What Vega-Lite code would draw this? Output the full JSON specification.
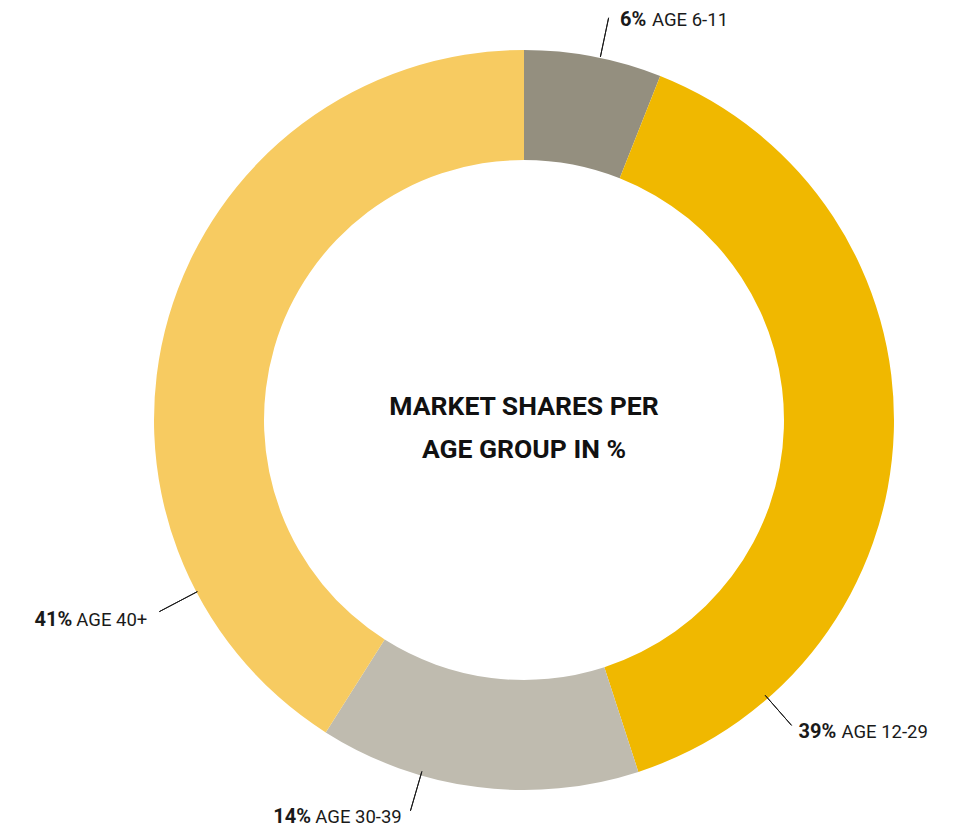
{
  "$schema": "https://vega.github.io/schema/vega-lite/v6.json",
  "width": 966,
  "height": 829,
  "autosize": {"type": "fit", "contains": "padding"},
  "padding": {"left": 75, "top": 11, "right": 0, "bottom": 0},
  "background": "white",
  "config": {"view": {"stroke": null}},
  "data": {
    "values": [
      {"group": "AGE 6-11", "age_from": 6, "share": 6},
      {"group": "AGE 12-29", "age_from": 12, "share": 39},
      {"group": "AGE 30-39", "age_from": 30, "share": 14},
      {"group": "AGE 40+", "age_from": 40, "share": 41}
    ]
  },
  "transform": [{"calculate": "datum.share + '%'", "as": "pct"}],
  "layer": [
    {
      "mark": {"type": "arc", "radius": 370, "radius2": 260},
      "encoding": {
        "theta": {"field": "share", "type": "quantitative", "stack": true, "scale": {"domain": [0, 100]}},
        "order": {"field": "age_from", "type": "quantitative", "sort": "ascending"},
        "color": {
          "field": "group",
          "type": "nominal",
          "scale": {
            "domain": ["AGE 6-11", "AGE 12-29", "AGE 30-39", "AGE 40+"],
            "range": ["#948f7f", "#f0b800", "#bfbbaf", "#f7cb61"]
          },
          "legend": null
        }
      }
    },
    {
      "transform": [{"filter": "datum.group === 'AGE 6-11'"}],
      "layer": [
        {"mark": {"type": "arc", "radius": 411, "radius2": 371, "filled": false, "color": "#1a1a1a", "strokeWidth": 1},
         "encoding": {"theta": {"datum": 3.3}, "theta2": {"datum": 3.3}}},
        {"mark": {"type": "text", "radius": 412, "align": "left", "baseline": "alphabetic", "dx": 12.5, "dy": 9.1, "font": "Roboto", "fontWeight": "bold", "fontSize": 20, "color": "#1a1a1a"},
         "encoding": {"theta": {"datum": 3.25}, "text": {"field": "pct"}}},
        {"mark": {"type": "text", "radius": 412, "align": "left", "baseline": "alphabetic", "dx": 44.5, "dy": 9.1, "font": "Roboto", "fontSize": 18.5, "color": "#1a1a1a"},
         "encoding": {"theta": {"datum": 3.25}, "text": {"field": "group"}}}
      ]
    },
    {
      "transform": [{"filter": "datum.group === 'AGE 12-29'"}],
      "layer": [
        {"mark": {"type": "arc", "radius": 406, "radius2": 366, "filled": false, "color": "#1a1a1a", "strokeWidth": 1},
         "encoding": {"theta": {"datum": 38.55}, "theta2": {"datum": 38.55}}},
        {"mark": {"type": "text", "radius": 406, "align": "left", "baseline": "alphabetic", "dx": 6.9, "dy": 12.8, "font": "Roboto", "fontWeight": "bold", "fontSize": 20, "color": "#1a1a1a"},
         "encoding": {"theta": {"datum": 38.55}, "text": {"field": "pct"}}},
        {"mark": {"type": "text", "radius": 406, "align": "left", "baseline": "alphabetic", "dx": 50, "dy": 12.8, "font": "Roboto", "fontSize": 18.5, "color": "#1a1a1a"},
         "encoding": {"theta": {"datum": 38.55}, "text": {"field": "group"}}}
      ]
    },
    {
      "transform": [{"filter": "datum.group === 'AGE 30-39'"}],
      "layer": [
        {"mark": {"type": "arc", "radius": 407, "radius2": 366, "filled": false, "color": "#1a1a1a", "strokeWidth": 1},
         "encoding": {"theta": {"datum": 54.5}, "theta2": {"datum": 54.5}}},
        {"mark": {"type": "text", "radius": 407, "align": "right", "baseline": "alphabetic", "dx": -99.5, "dy": 12.5, "font": "Roboto", "fontWeight": "bold", "fontSize": 20, "color": "#1a1a1a"},
         "encoding": {"theta": {"datum": 54.5}, "text": {"field": "pct"}}},
        {"mark": {"type": "text", "radius": 407, "align": "right", "baseline": "alphabetic", "dx": -8.7, "dy": 12.5, "font": "Roboto", "fontSize": 18.5, "color": "#1a1a1a"},
         "encoding": {"theta": {"datum": 54.5}, "text": {"field": "group"}}}
      ]
    },
    {
      "transform": [{"filter": "datum.group === 'AGE 40+'"}],
      "layer": [
        {"mark": {"type": "arc", "radius": 412, "radius2": 369, "filled": false, "color": "#1a1a1a", "strokeWidth": 1},
         "encoding": {"theta": {"datum": 67.3}, "theta2": {"datum": 67.3}}},
        {"mark": {"type": "text", "radius": 412, "align": "right", "baseline": "alphabetic", "dx": -87, "dy": 14.1, "font": "Roboto", "fontWeight": "bold", "fontSize": 20, "color": "#1a1a1a"},
         "encoding": {"theta": {"datum": 67.3}, "text": {"field": "pct"}}},
        {"mark": {"type": "text", "radius": 412, "align": "right", "baseline": "alphabetic", "dx": -12, "dy": 14.1, "font": "Roboto", "fontSize": 18.5, "color": "#1a1a1a"},
         "encoding": {"theta": {"datum": 67.3}, "text": {"field": "group"}}}
      ]
    },
    {
      "data": {"values": [{"title": "MARKET SHARES PER\nAGE GROUP IN %"}]},
      "mark": {"type": "text", "align": "center", "baseline": "alphabetic", "lineBreak": "\n", "lineHeight": 43, "dy": -5, "font": "Roboto", "fontWeight": "bold", "fontSize": 26.5, "color": "#111111"},
      "encoding": {"text": {"field": "title"}}
    }
  ]
}
